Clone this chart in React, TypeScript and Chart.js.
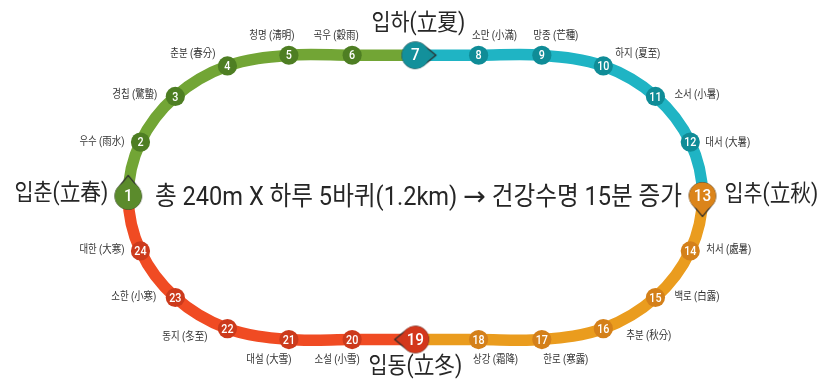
import React, { useEffect, useRef } from "react";
import { Chart, registerables } from "chart.js";

Chart.register(...registerables);

// ---------------- data ----------------
const TERM_NUMBERS = [1, 2, 3, 4, 5, 6, 7, 8, 9, 10, 11, 12, 13, 14, 15, 16, 17, 18, 19, 20, 21, 22, 23, 24];
const TERM_NAMES_KO = [
  "입춘", "우수", "경칩", "춘분", "청명", "곡우",
  "입하", "소만", "망종", "하지", "소서", "대서",
  "입추", "처서", "백로", "추분", "한로", "상강",
  "입동", "소설", "대설", "동지", "소한", "대한",
];
const TERM_NAMES_HANJA = [
  "立春", "雨水", "驚蟄", "春分", "淸明", "穀雨",
  "立夏", "小滿", "芒種", "夏至", "小暑", "大暑",
  "立秋", "處暑", "白露", "秋分", "寒露", "霜降",
  "立冬", "小雪", "大雪", "冬至", "小寒", "大寒",
];
const TERM_SEASON = [0, 0, 0, 0, 0, 0, 1, 1, 1, 1, 1, 1, 2, 2, 2, 2, 2, 2, 3, 3, 3, 3, 3, 3];
const SEASON_START_NUMBERS = [1, 7, 13, 19];
const TITLE_TEXT = "총 240m X 하루 5바퀴(1.2km) → 건강수명 15분 증가";

// ---------------- styles / layout ----------------
const TRACK_COLORS = ["#72a535", "#1fb4c4", "#ea9c1e", "#f04b23"];
const STATION_COLORS = ["#4e7e23", "#0f8c97", "#d4801a", "#cc3a1c"];
const BIG_COLORS = ["#5b8b2c", "#13909b", "#db841a", "#d3371b"];
const TIP_ROTATION = [-90, 0, 90, 180];

const GEO = { lcx: 286, rcx: 545, rx: 164.5, cy: 196, ryTop: 148, ryBot: 151 };

// label offsets from the station centre: [dx, dy, align]
const LABEL_LAYOUT: [number, number, CanvasTextAlign][] = [
  [-20, -2, "right"],
  [-16, 0, "right"],
  [-18, -1, "right"],
  [-12, -12, "right"],
  [-17, -19, "center"],
  [-16, -19, "center"],
  [3, -31, "center"],
  [16, -19, "center"],
  [14, -19, "center"],
  [12, -12, "left"],
  [19, -1, "left"],
  [15, 1, "left"],
  [22, -1, "left"],
  [16, -1, "left"],
  [19, 0, "left"],
  [23, 7, "left"],
  [24, 21, "center"],
  [17, 21, "center"],
  [0, 28, "center"],
  [-15, 21, "center"],
  [-20, 21, "center"],
  [-20, 8, "right"],
  [-19, 0, "right"],
  [-16, -1, "right"],
];

const FONT_STACK = "Roboto, 'Noto Sans CJK KR', sans-serif";
const ARROW_FONT = "'DejaVu Sans', sans-serif";
const SMALL_LABEL = { font: `11.5px ${FONT_STACK}`, sx: 0.82, color: "#333333" };
const BIG_LABEL = { font: `23px ${FONT_STACK}`, sx: 0.9, color: "#262626" };
const NUM_SMALL = { font: `500 12.5px ${FONT_STACK}`, sx: 0.86 };
const NUM_BIG = { font: `500 17px ${FONT_STACK}`, sx: 0.9 };
const TITLE = { size: 26, width: 527, x: 418.5, y: 198, color: "#262626" };

function trackPoint(i: number) {
  const { lcx, rcx, rx, cy, ryTop, ryBot } = GEO;
  const step = Math.PI / 8;
  const span = (rcx - lcx) / 4;
  if (i <= 4) {
    const t = i * step;
    return { x: lcx - rx * Math.cos(t), y: cy - ryTop * Math.sin(t) };
  }
  if (i <= 8) return { x: lcx + (i - 4) * span, y: cy - ryTop };
  if (i <= 12) {
    const t = (12 - i) * step;
    return { x: rcx + rx * Math.cos(t), y: cy - ryTop * Math.sin(t) };
  }
  if (i <= 16) {
    const t = (i - 12) * step;
    return { x: rcx + rx * Math.cos(t), y: cy + ryBot * Math.sin(t) };
  }
  if (i <= 20) return { x: rcx - (i - 16) * span, y: cy + ryBot };
  const t = (24 - i) * step;
  return { x: lcx - rx * Math.cos(t), y: cy + ryBot * Math.sin(t) };
}

function makeTeardrop(color: string) {
  const size = 52;
  const c = document.createElement("canvas");
  c.width = size;
  c.height = size;
  const g = c.getContext("2d")!;
  const cx = size / 2;
  const cy = size / 2;
  const path = (r: number, d: number) => {
    const a = Math.acos(r / d);
    g.beginPath();
    g.moveTo(cx + d, cy);
    g.arc(cx, cy, r, a, Math.PI * 2 - a, false);
    g.closePath();
  };
  g.fillStyle = "#2b2b2b";
  path(13.8, 21.5);
  g.fill();
  g.fillStyle = color;
  path(12.5, 19.6);
  g.fill();
  g.beginPath();
  g.arc(cx, cy, 13.6, 0, Math.PI * 2);
  g.fill();
  return c;
}

function drawText(
  ctx: CanvasRenderingContext2D,
  text: string,
  x: number,
  y: number,
  align: CanvasTextAlign,
  font: string,
  sx: number,
  color: string
) {
  ctx.save();
  ctx.translate(x, y);
  ctx.scale(sx, 1);
  ctx.font = font;
  ctx.fillStyle = color;
  ctx.textAlign = align;
  ctx.textBaseline = "middle";
  ctx.fillText(text, 0, 0);
  ctx.restore();
}

function drawTitle(ctx: CanvasRenderingContext2D) {
  const [left, right] = TITLE_TEXT.split("→");
  const parts = [
    { text: left, font: `${TITLE.size}px ${FONT_STACK}`, sx: 1 },
    { text: "→", font: `${TITLE.size}px ${ARROW_FONT}`, sx: 1.15 },
    { text: right, font: `${TITLE.size}px ${FONT_STACK}`, sx: 1 },
  ];
  ctx.save();
  const widths = parts.map((p) => {
    ctx.font = p.font;
    return ctx.measureText(p.text).width * p.sx;
  });
  ctx.restore();
  const total = widths.reduce((a, b) => a + b, 0);
  const k = TITLE.width / total;
  let x = TITLE.x - TITLE.width / 2;
  parts.forEach((p, idx) => {
    drawText(ctx, p.text, x, TITLE.y, "left", p.font, k * p.sx, TITLE.color);
    x += widths[idx] * k;
  });
}

const labelPlugin = {
  id: "termLabels",
  afterDatasetsDraw(chart: any) {
    const ctx: CanvasRenderingContext2D = chart.ctx;
    const meta = chart.getDatasetMeta(0);
    meta.data.forEach((el: any, i: number) => {
      const { x, y } = el.getProps(["x", "y"], true);
      const big = SEASON_START_NUMBERS.includes(TERM_NUMBERS[i]);
      const nf = big ? NUM_BIG : NUM_SMALL;
      drawText(ctx, String(TERM_NUMBERS[i]), x, y + 1, "center", nf.font, nf.sx, "#ffffff");
      const [dx, dy, align] = LABEL_LAYOUT[i];
      const lf = big ? BIG_LABEL : SMALL_LABEL;
      const text = big
        ? `${TERM_NAMES_KO[i]}(${TERM_NAMES_HANJA[i]})`
        : `${TERM_NAMES_KO[i]} (${TERM_NAMES_HANJA[i]})`;
      drawText(ctx, text, x + dx, y + dy, align, lf.font, lf.sx, lf.color);
    });
    drawTitle(ctx);
  },
};

export default function App() {
  const ref = useRef<HTMLCanvasElement>(null);

  useEffect(() => {
    const canvas = ref.current;
    if (!canvas) return;

    const stations = TERM_NUMBERS.map((_, i) => trackPoint(i));
    // closed loop starting at station 7 (middle of the top straight)
    const loopOrder = TERM_NUMBERS.map((_, k) => (k + 6) % 24).concat([6]);
    const trackData = loopOrder.map((i) => trackPoint(i));

    const tearImgs = BIG_COLORS.map((c) => makeTeardrop(c));
    const pointStyles = TERM_NUMBERS.map((n, i) =>
      SEASON_START_NUMBERS.includes(n) ? tearImgs[TERM_SEASON[i]] : "circle"
    );
    const pointRotations = TERM_NUMBERS.map((n, i) =>
      SEASON_START_NUMBERS.includes(n) ? TIP_ROTATION[TERM_SEASON[i]] : 0
    );

    const chart = new Chart(canvas, {
      type: "line",
      data: {
        datasets: [
          {
            label: "stations",
            data: stations,
            showLine: false,
            order: 0,
            pointStyle: pointStyles as any,
            pointRotation: pointRotations,
            pointRadius: 9.6,
            pointBorderWidth: 0,
            pointBackgroundColor: TERM_SEASON.map((s) => STATION_COLORS[s]),
            pointBorderColor: TERM_SEASON.map((s) => STATION_COLORS[s]),
          } as any,
          {
            label: "track",
            data: trackData,
            order: 1,
            borderWidth: 11.5,
            tension: 0.34,
            pointRadius: 0,
            borderCapStyle: "butt",
            borderJoinStyle: "round",
            borderColor: TRACK_COLORS[0],
            segment: {
              borderColor: (c: any) => TRACK_COLORS[TERM_SEASON[loopOrder[c.p0DataIndex]]],
            },
          } as any,
        ],
      },
      options: {
        responsive: false,
        animation: false,
        devicePixelRatio: 1,
        events: [],
        layout: { padding: 0 },
        plugins: { legend: { display: false }, tooltip: { enabled: false } },
        scales: {
          x: { type: "linear", min: 0, max: 820, display: false },
          y: { type: "linear", min: 0, max: 391, reverse: true, display: false },
        },
      },
      plugins: [labelPlugin],
    });

    return () => chart.destroy();
  }, []);

  return (
    <div style={{ position: "fixed", left: 0, top: 0, width: 820, height: 391, background: "#ffffff" }}>
      <canvas ref={ref} width={820} height={391} style={{ display: "block" }} />
    </div>
  );
}
